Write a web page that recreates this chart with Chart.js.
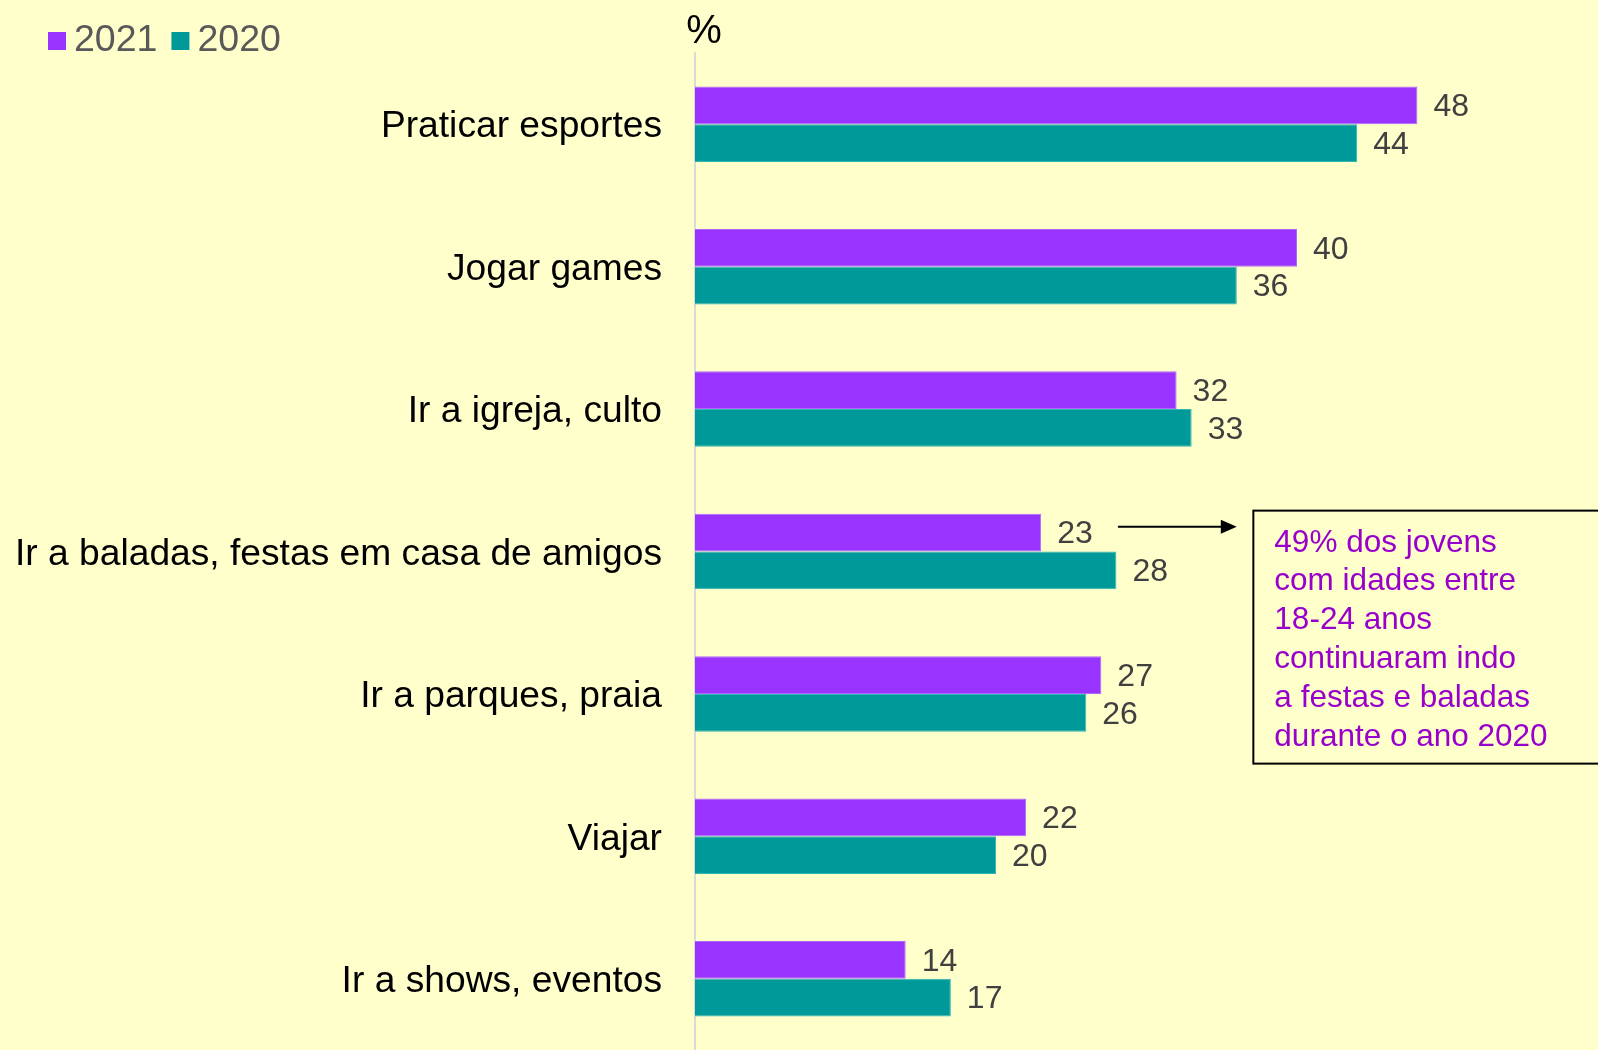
<!DOCTYPE html>
<html>
<head>
<meta charset="utf-8">
<script src="https://cdn.jsdelivr.net/npm/chart.js@4"></script>
<style>
  html, body { margin: 0; padding: 0; background: #FFFFCC; }
  #wrap { width: 1598px; height: 1050px; position: relative; }
</style>
</head>
<body>
<div id="wrap"><canvas id="activityChart"></canvas></div>
<script>
// ======================
// Data
// ======================
const categories = [
    "Praticar esportes",
    "Jogar games",
    "Ir a igreja, culto",
    "Ir a baladas, festas em casa de amigos",
    "Ir a parques, praia",
    "Viajar",
    "Ir a shows, eventos"
];
const seriesLabels = ["2021", "2020"];
const values2021 = [48, 40, 32, 23, 27, 22, 14];
const values2020 = [44, 36, 33, 28, 26, 20, 17];
const unitLabel = "%";
const noteLines = [
    "49% dos jovens",
    "com idades entre",
    "18-24 anos",
    "continuaram indo",
    "a festas e baladas",
    "durante o ano 2020"
];
const noteIndex = 3; // the "baladas" row

const FONT = "'Liberation Sans', Arial, sans-serif";
const purple = "#9933FF";
const teal = "#009999";

// ======================
// Value labels next to bars
// ======================
const valueLabels = {
    id: "valueLabels",
    afterDatasetsDraw(chart) {
        const ctx = chart.ctx;
        ctx.save();
        ctx.font = "32px " + FONT;
        ctx.fillStyle = "#404040";
        ctx.textAlign = "left";
        ctx.textBaseline = "middle";
        chart.data.datasets.forEach((ds, i) => {
            chart.getDatasetMeta(i).data.forEach((bar, j) => {
                ctx.fillText(ds.data[j], bar.x + 16, bar.y + 2);
            });
        });
        ctx.restore();
    }
};

// ======================
// Legend, unit and note box
// ======================
const extras = {
    id: "extras",
    afterDraw(chart) {
        const ctx = chart.ctx;
        const x = chart.scales.x;
        ctx.save();

        // legend
        ctx.font = "37.5px " + FONT;
        ctx.textBaseline = "middle";
        ctx.textAlign = "left";
        let lx = 48;
        chart.data.datasets.forEach(ds => {
            ctx.fillStyle = ds.backgroundColor;
            ctx.fillRect(lx, 32, 18, 18);
            ctx.fillStyle = "#595959";
            ctx.fillText(ds.label, lx + 26, 41);
            lx += 26 + ctx.measureText(ds.label).width + 14;
        });

        // unit
        ctx.fillStyle = "#000";
        ctx.font = "40px " + FONT;
        ctx.textAlign = "center";
        ctx.fillText(unitLabel, chart.chartArea.left + 9, 32);

        // arrow + note box
        const bar = chart.getDatasetMeta(0).data[noteIndex];
        const ay = bar.y - 6;
        const ax0 = x.getPixelForValue(28.1);
        const ax1 = x.getPixelForValue(36);
        ctx.strokeStyle = "#000";
        ctx.fillStyle = "#000";
        ctx.lineWidth = 2;
        ctx.beginPath();
        ctx.moveTo(ax0, ay);
        ctx.lineTo(ax1 - 12, ay);
        ctx.stroke();
        ctx.beginPath();
        ctx.moveTo(ax1, ay);
        ctx.lineTo(ax1 - 16, ay - 7);
        ctx.lineTo(ax1 - 16, ay + 7);
        ctx.closePath();
        ctx.fill();

        const bx = x.getPixelForValue(37.1);
        const by = bar.y - 22;
        ctx.strokeRect(bx, by, chart.width + 20 - bx, 253);

        ctx.fillStyle = "#9900CC";
        ctx.font = "31.5px " + FONT;
        ctx.textAlign = "left";
        ctx.textBaseline = "alphabetic";
        noteLines.forEach((line, i) => {
            ctx.fillText(line, bx + 21, by + 41 + i * 38.8);
        });
        ctx.restore();
    }
};

new Chart(document.getElementById("activityChart"), {
    type: "bar",
    data: {
        labels: categories,
        datasets: [
            {
                label: seriesLabels[0],
                data: values2021,
                backgroundColor: purple,
                borderColor: "#B266FF",
                borderWidth: 1,
                categoryPercentage: 0.53,
                barPercentage: 1.0
            },
            {
                label: seriesLabels[1],
                data: values2020,
                backgroundColor: teal,
                borderColor: "#33B5B5",
                borderWidth: 1,
                categoryPercentage: 0.53,
                barPercentage: 1.0
            }
        ]
    },
    options: {
        indexAxis: "y",
        responsive: true,
        maintainAspectRatio: false,
        animation: false,
        layout: { padding: { top: 53, bottom: -3, left: 0, right: 0 } },
        plugins: {
            legend: { display: false },
            tooltip: { enabled: false }
        },
        scales: {
            x: {
                display: false,
                min: 0,
                max: 60
            },
            y: {
                grid: { display: false, drawTicks: false },
                border: { display: true, color: "#D9D9D9", width: 2 },
                ticks: {
                    color: "#000",
                    padding: 33,
                    labelOffset: 3,
                    font: { family: FONT, size: 37.2 }
                },
                afterFit: function (scale) {
                    scale.width = 695;
                    // labels sit inside their categories, no extra room needed
                    scale.paddingTop = 0;
                    scale.paddingBottom = 0;
                }
            }
        }
    },
    plugins: [valueLabels, extras]
});
</script>
</body>
</html>
